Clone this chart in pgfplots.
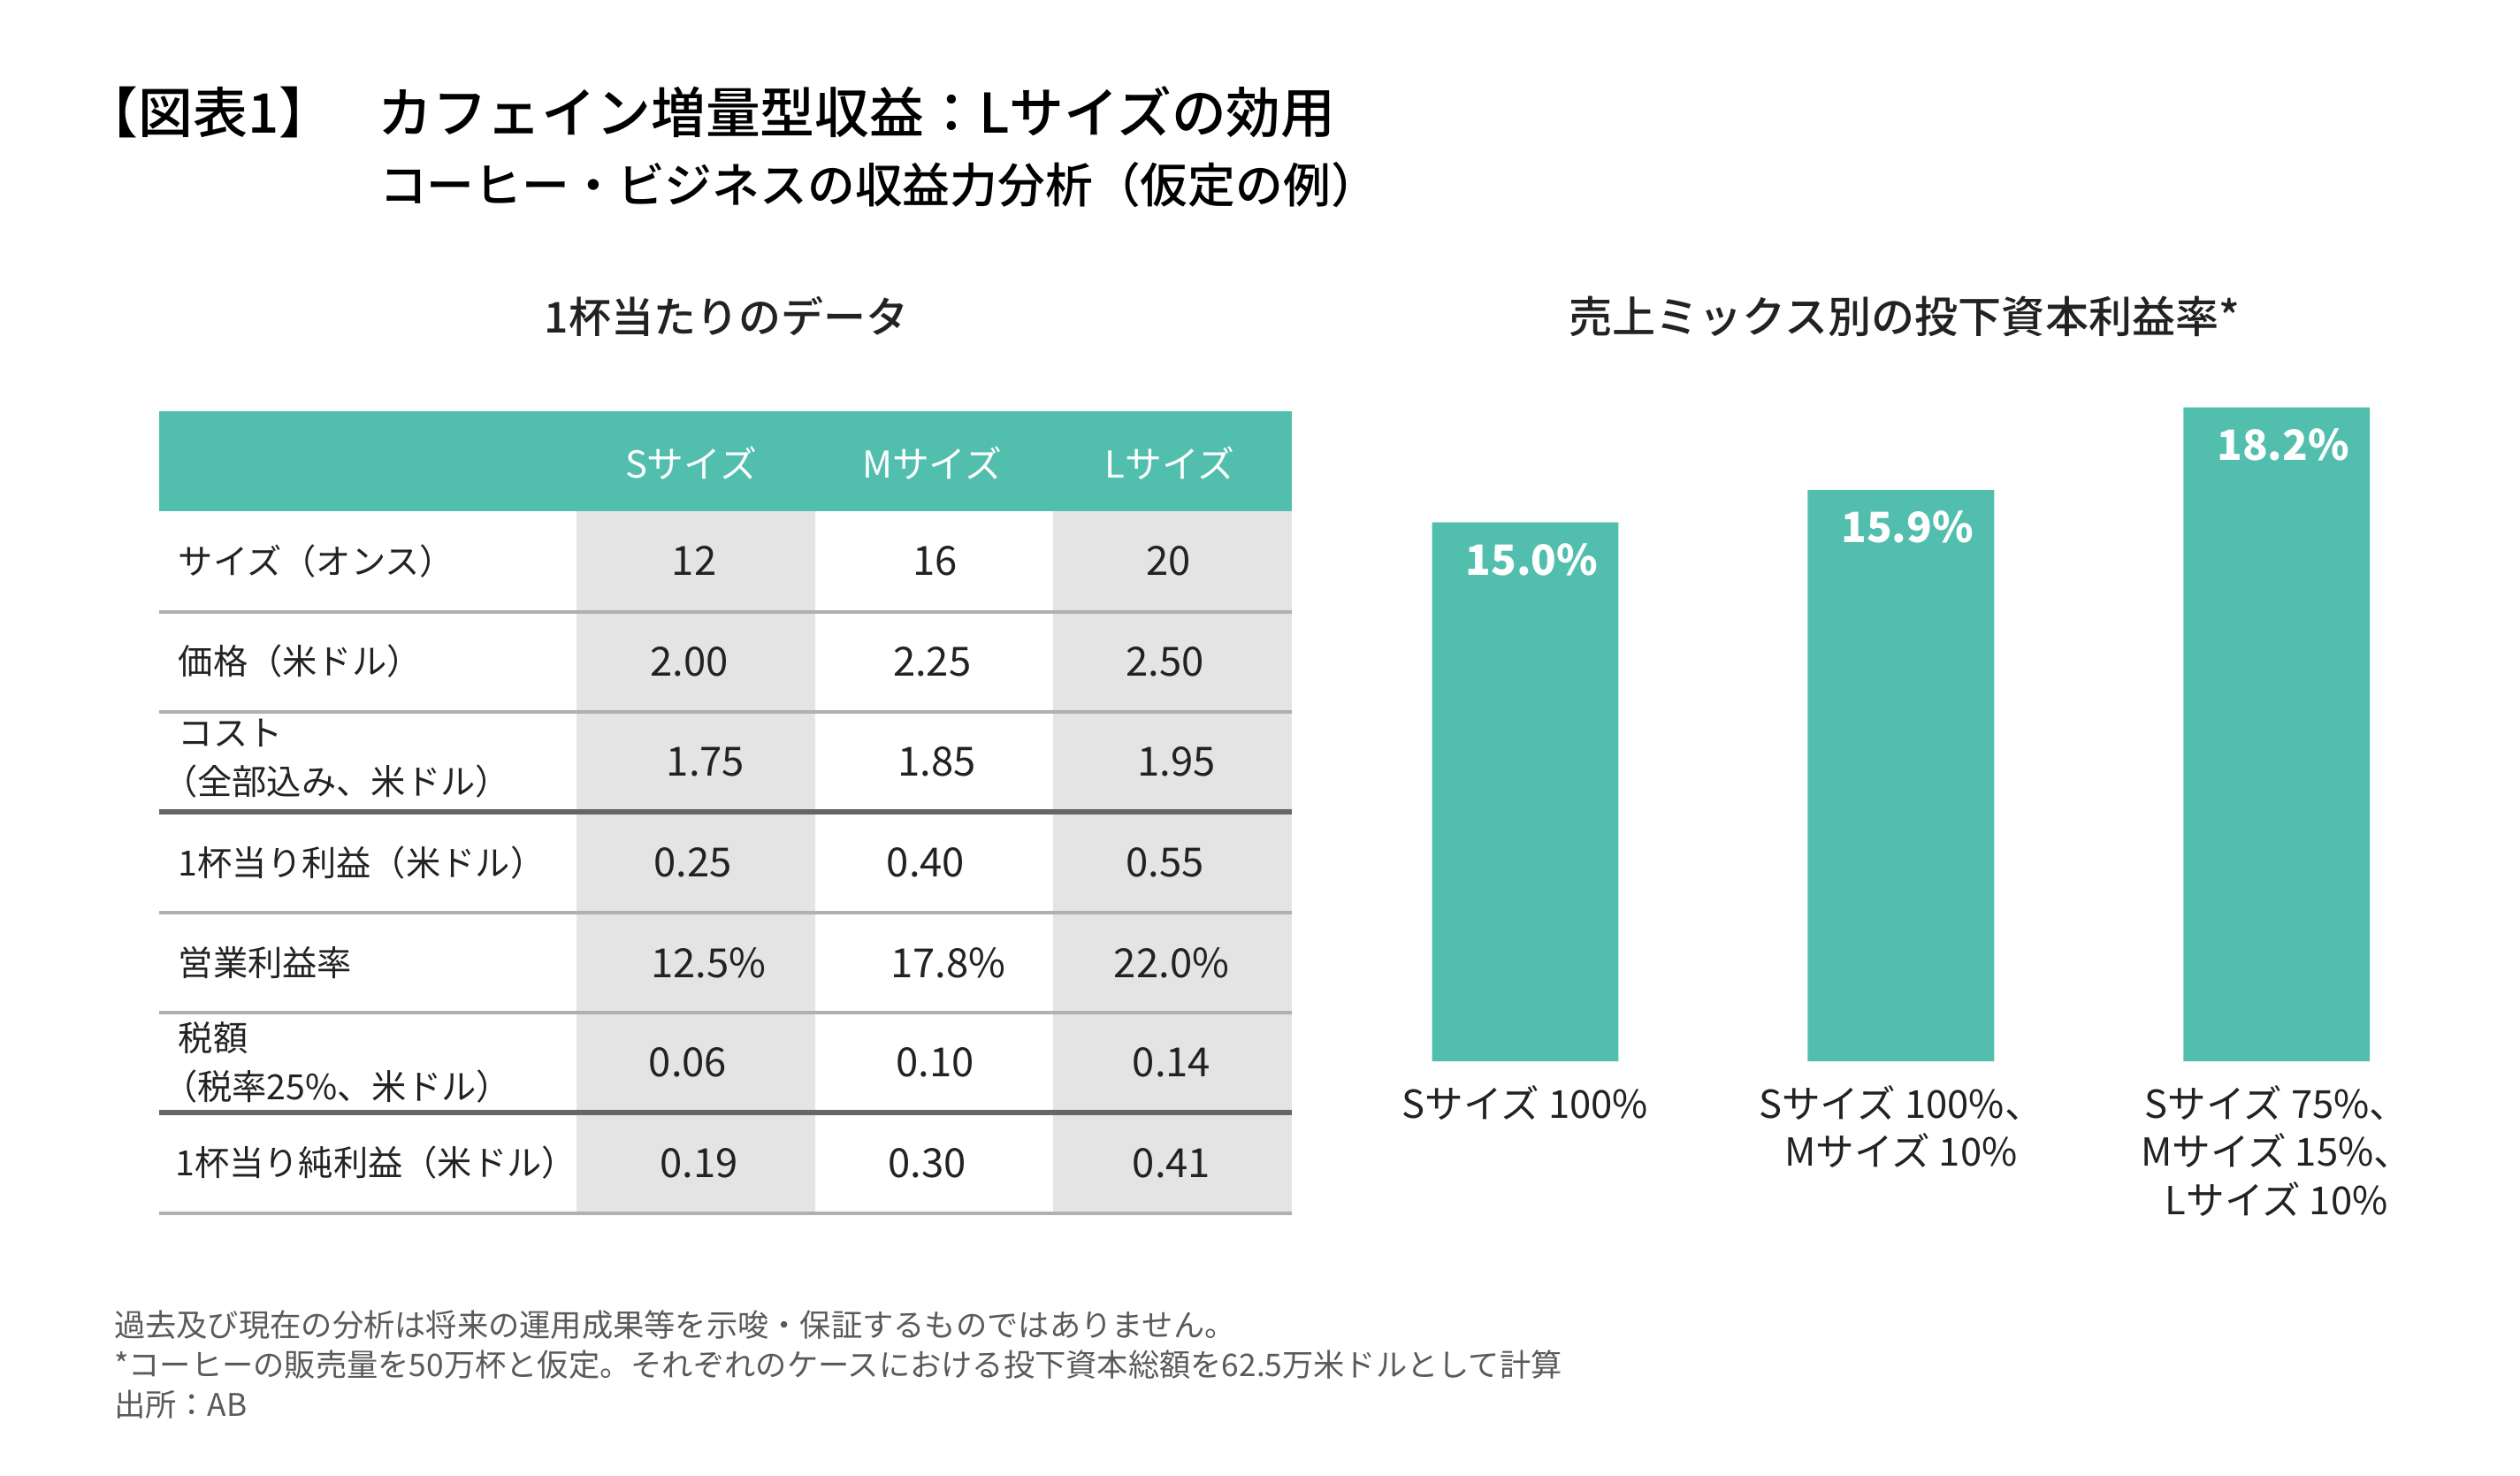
\documentclass[border=0pt]{standalone}
\usepackage{fontspec}
\usepackage{pgfplots}
\pgfplotsset{compat=1.18}
\setmainfont{Noto Sans CJK JP}
\newfontfamily\medfont{Noto Sans CJK JP Medium}
\definecolor{teal1}{RGB}{82,190,174}
\definecolor{cellgray}{RGB}{228,228,228}
\definecolor{linegray}{RGB}{176,176,176}
\definecolor{linedark}{RGB}{102,102,102}
\definecolor{txt}{RGB}{34,34,34}
\definecolor{note}{RGB}{90,90,90}
\begin{document}
\begin{tikzpicture}
\begin{scope}[x=0.5pt,y=-0.5pt]
\path (0,0) rectangle (1568,918);
% titles
\node[anchor=west, text=black, font=\medfont\fontsize{17}{20}\selectfont] at (45,70) {【図表1】};
\node[anchor=west, text=black, font=\medfont\fontsize{17}{20}\selectfont] at (228,70) {カフェイン増量型収益：Lサイズの効用};
\node[anchor=west, text=black, font=\medfont\fontsize{14.8}{18}\selectfont] at (229,115) {コーヒー・ビジネスの収益力分析（仮定の例）};
\node[text=txt, font=\medfont\fontsize{13.2}{16}\selectfont] at (452,197) {1杯当たりのデータ};
\node[text=txt, font=\medfont\fontsize{13.5}{16}\selectfont] at (1185,197) {売上ミックス別の投下資本利益率*};
% table backgrounds
\fill[teal1] (99,256) rectangle (803.8,318);
\fill[cellgray] (358.5,318) rectangle (507,755);
\fill[cellgray] (655,318) rectangle (803.8,755);
\foreach \yy in {380.5,443,567.6,630,754.7} \draw[linegray,line width=1.1pt] (99,\yy) -- (803.8,\yy);
\foreach \yy in {505,692} \draw[linedark,line width=1.7pt] (99,\yy) -- (803.8,\yy);
% header text
\begin{scope}[every node/.style={text=white, font=\fontsize{11.5}{14}\selectfont}]
\node at (430,288) {Sサイズ};
\node at (580,288) {Mサイズ};
\node at (728,288) {Lサイズ};
\end{scope}
% row labels
\begin{scope}[every node/.style={anchor=west, text=txt, align=left, font=\fontsize{10.8}{15}\selectfont}]
\node at (104,349) {サイズ（オンス）};
\node at (104,411.5) {価格（米ドル）};
\node at (104,472) {コスト\\\hspace{-0.45em}（全部込み、米ドル）};
\node at (104,536.5) {1杯当り利益（米ドル）};
\node at (104,599) {営業利益率};
\node at (104,661) {税額\\\hspace{-0.45em}（税率25\%、米ドル）};
\node at (102,723.5) {1杯当り純利益（米ドル）};
\end{scope}
% values
\begin{scope}[every node/.style={text=txt, font=\fontsize{12.5}{15}\selectfont}]
\node at (432,349) {12};
\node at (582,349) {16};
\node at (727,349) {20};
\node at (429,411.5) {2.00};
\node at (580,411.5) {2.25};
\node at (725,411.5) {2.50};
\node at (439,474) {1.75};
\node at (583,474) {1.85};
\node at (732,474) {1.95};
\node at (431,536.5) {0.25};
\node at (576,536.5) {0.40};
\node at (725,536.5) {0.55};
\node at (441,599) {12.5\%};
\node at (590,599) {17.8\%};
\node at (729,599) {22.0\%};
\node at (428,661) {0.06};
\node at (582,661) {0.10};
\node at (729,661) {0.14};
\node at (435,723.5) {0.19};
\node at (577,723.5) {0.30};
\node at (729,723.5) {0.41};
\end{scope}
% footnotes
\begin{scope}[every node/.style={anchor=west, text=note, font=\fontsize{9.7}{12}\selectfont}]
\node at (64,824) {過去及び現在の分析は将来の運用成果等を示唆・保証するものではありません。};
\node at (64,849) {*コーヒーの販売量を50万杯と仮定。それぞれのケースにおける投下資本総額を62.5万米ドルとして計算};
\node at (64,874) {出所：AB};
\end{scope}
\end{scope}
\begin{axis}[at={(416.1pt,-330.1pt)}, anchor=south west, scale only axis,
  width=350.6pt, height=223.5pt, xmin=-0.5, xmax=2.5, ymin=0, ymax=20,
  ybar, bar width=58pt, hide y axis, axis x line*=bottom,
  x axis line style={draw=none}, xtick={0,1,2}, major tick length=0pt,
  xticklabels={{Sサイズ 100\%},{Sサイズ 100\%、\\Mサイズ 10\%},{Sサイズ 75\%、\\Mサイズ 15\%、\\Lサイズ 10\%}},
  xticklabel style={align=center, font=\fontsize{12}{15}\selectfont, text=txt, yshift=-4pt},
  nodes near coords={\pgfmathprintnumber[fixed,fixed zerofill,precision=1,assume math mode=true]{\pgfplotspointmeta}\%},
  every node near coord/.append style={font=\bfseries\fontsize{13}{15}\selectfont, text=white, anchor=center, yshift=-11.5pt, xshift=2pt},
  clip=false]
\addplot[fill=teal1, draw=none] coordinates {(0,15.0) (1,15.9) (2,18.2)};
\end{axis}
\end{tikzpicture}
\end{document}
